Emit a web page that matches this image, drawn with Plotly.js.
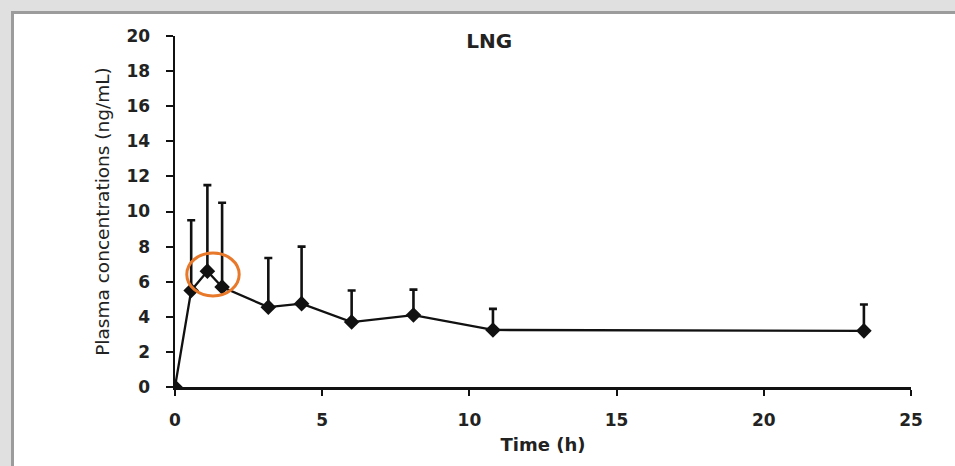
<!DOCTYPE html>
<html>
<head>
<meta charset="utf-8">
<script src="https://cdn.plot.ly/plotly-3.0.1.min.js"></script>
<style>
  html, body { margin: 0; padding: 0; width: 955px; height: 466px; overflow: hidden; background: #e0e0e0; }
  #frame { position: absolute; left: 11px; top: 11px; width: 944px; height: 455px; background: #ffffff;
           border-left: 3px solid #9c9c9c; border-top: 3px solid #9c9c9c; box-sizing: border-box; }
  #chart { position: absolute; left: 0; top: 0; width: 955px; height: 466px; }
</style>
</head>
<body>
<div id="frame"></div>
<div id="chart"></div>
<script>
// Data
const timeH = [0, 0.55, 1.1, 1.6, 3.17, 4.3, 6.0, 8.1, 10.8, 23.4];
const concentration = [0, 5.5, 6.6, 5.7, 4.55, 4.75, 3.7, 4.1, 3.25, 3.2];
const errorUpper = [0, 4.0, 4.9, 4.8, 2.8, 3.25, 1.8, 1.45, 1.2, 1.5];
const errorLower = [0, 0, 0, 0, 0, 0, 0, 0, 0, 0];
const xTicks = [0, 5, 10, 15, 20, 25];
const yTicks = [0, 2, 4, 6, 8, 10, 12, 14, 16, 18, 20];
const chartTitle = 'LNG';
const xTitle = 'Time (h)';
const yTitle = 'Plasma concentrations (ng/mL)';
const highlight = {x0: 0.40, x1: 2.18, y0: 5.19, y1: 7.64};

const boldFamily = '"DejaVu Sans", sans-serif';
const tickFont = {family: boldFamily, size: 17, color: '#222', weight: 'bold'};

const trace = {
  x: timeH,
  y: concentration,
  type: 'scatter',
  mode: 'lines+markers',
  line: {color: '#111', width: 2.3},
  marker: {symbol: 'diamond', size: 12, color: '#111'},
  error_y: {type: 'data', symmetric: false, array: errorUpper, arrayminus: errorLower,
            color: '#111', thickness: 2.6, width: 4},
  hoverinfo: 'x+y'
};

const layout = {
  width: 955, height: 466,
  margin: {l: 175, r: 44, t: 36, b: 79},
  paper_bgcolor: 'rgba(0,0,0,0)',
  plot_bgcolor: 'rgba(0,0,0,0)',
  showlegend: false,
  title: {text: chartTitle, font: {family: boldFamily, size: 20, color: '#222', weight: 'bold'},
          x: 0.427, xref: 'paper', xanchor: 'center', y: 0.913, yref: 'container', yanchor: 'middle'},
  xaxis: {
    range: [0, 25], tickvals: xTicks, ticktext: xTicks.map(String),
    showgrid: false, zeroline: false, showline: true, linecolor: '#111', linewidth: 2.5,
    ticks: 'outside', ticklen: 6, tickwidth: 2, tickcolor: '#111',
    tickfont: tickFont, ticklabelstandoff: 10,
    title: {text: xTitle, font: {family: boldFamily, size: 18, color: '#222', weight: 'bold'}, standoff: 10}
  },
  yaxis: {
    range: [0, 20], tickvals: yTicks, ticktext: yTicks.map(String),
    showgrid: false, zeroline: false, showline: true, linecolor: '#111', linewidth: 2.5,
    ticks: 'outside', ticklen: 7, tickwidth: 2, tickcolor: '#111',
    tickfont: tickFont, ticklabelstandoff: 12,
    title: {text: yTitle, font: {family: '"DejaVu Sans", sans-serif', size: 18.5, color: '#222'}, standoff: 12}
  },
  shapes: [{
    type: 'circle', xref: 'x', yref: 'y',
    x0: highlight.x0, x1: highlight.x1, y0: highlight.y0, y1: highlight.y1,
    line: {color: '#E8782A', width: 3}
  }]
};

Plotly.newPlot('chart', [trace], layout, {displayModeBar: false, staticPlot: true});
</script>
</body>
</html>
